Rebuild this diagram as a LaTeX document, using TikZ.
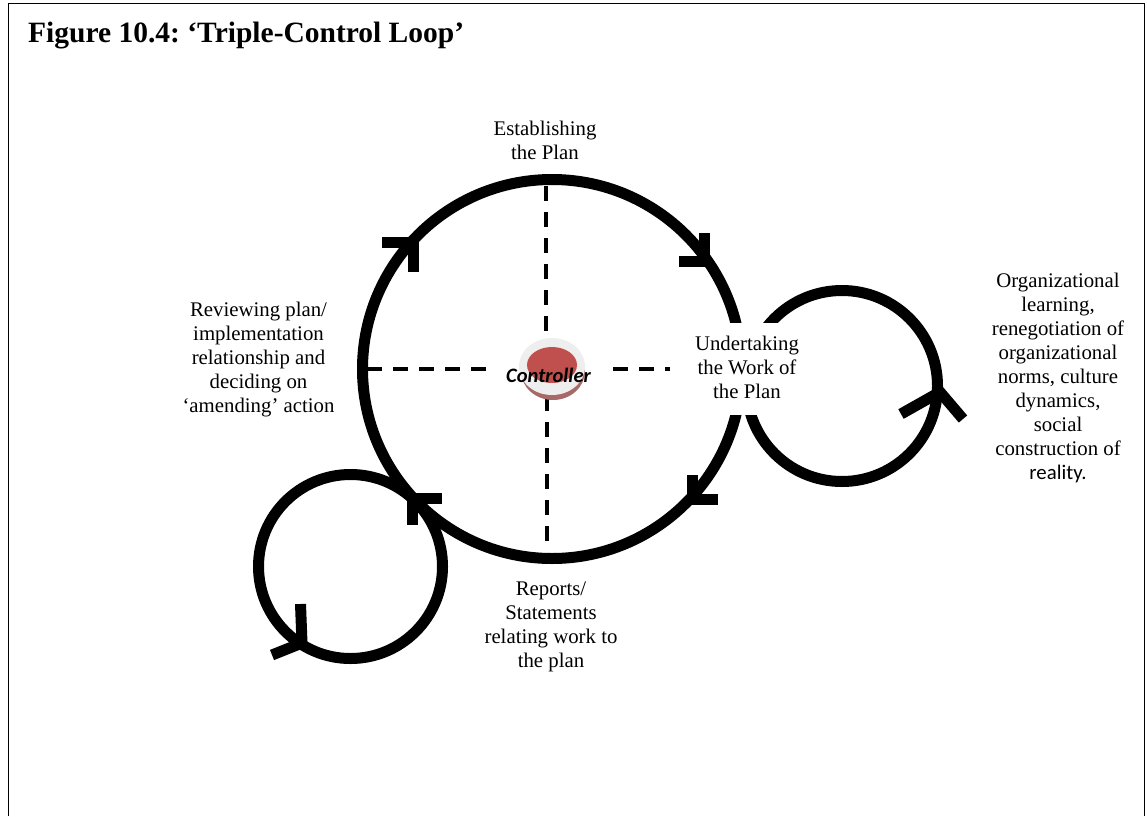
\documentclass[tikz,border=0pt]{standalone}
\usepackage{fontspec}
\setmainfont{Liberation Serif}
\newfontfamily\calfont{Carlito}
\definecolor{ctrlred}{HTML}{C0504D}
\definecolor{ctrlshade}{HTML}{A86A68}
\definecolor{ctrlring}{HTML}{EEEEEE}
\frenchspacing
\begin{document}
\begin{tikzpicture}[x=1pt,y=-1pt,
  loop/.style={line width=11pt},
  head/.style={line width=11pt, line join=miter, line cap=butt},
  axisline/.style={line width=3.5pt, dash pattern=on 15pt off 11pt},
  lbl/.style={align=center, inner sep=0pt, anchor=north, font=\fontsize{20.8}{24}\selectfont},
]
\useasboundingbox (0,0) rectangle (1147,816);
\draw[line width=1.5pt] (8.5,816) -- (8.5,3.5) -- (1144.5,3.5) -- (1144.5,816);
\node[anchor=base west, inner sep=0pt, font=\fontsize{29.5}{34}\selectfont\bfseries] (title) at (28,42) {Figure 10.4: ‘Triple-Control Loop’};

% loops
\coordinate (bigc) at (552,369);
\coordinate (rc) at (842,386);
\coordinate (lc) at (350.5,566.5);
\draw[loop] (bigc) circle[radius=189.5pt];
\draw[loop] (rc) circle[radius=95.5pt];
\draw[loop] (lc) circle[radius=92pt];

% arrowheads
\draw[head] (382,242.5) -- (413,242.5) -- (413,272);
\draw[head] (679,261) -- (704.5,261) -- (704.5,233);
\draw[head] (692.5,475) -- (692.5,499) -- (718,499);
\draw[head] (442,498.5) -- (412.5,498.5) -- (412.5,525);
\draw[head] (901,414) -- (940,392) -- (963,419);
\draw[head] (300.5,604) -- (302,643) -- (272,655);

% dashed axes
\coordinate (vt) at (546,186);
\coordinate (vtc) at (546,338);
\coordinate (vbc) at (547,396);
\coordinate (vb) at (547,552);
\coordinate (hl) at (367,369);
\coordinate (hlc) at (489,369);
\coordinate (hrc) at (613,369);
\coordinate (hr) at (670,369);
\draw[axisline] (vt) -- (vtc);
\draw[axisline] (vbc) -- (vb);
\draw[axisline] (hl) -- (hlc);
\draw[axisline] (hrc) -- (hr);

% controller
\fill[ctrlshade] (553,371) ellipse[x radius=32pt, y radius=29pt];
\fill[ctrlring] (552,366.5) ellipse[x radius=33pt, y radius=28.5pt];
\fill[ctrlred] (552,365) ellipse[x radius=25pt, y radius=18pt];
\node[anchor=base, inner sep=0pt, font=\calfont\fontsize{20.5}{24}\selectfont\bfseries\itshape] (ctrl) at (548.5,382) {Controller};

% labels
\fill[white] (688,323) rectangle (806,415);
\node[lbl] (plan) at (545,121.2) {Establishing\\the Plan};
\node[lbl] (review) at (258.5,302.2) {Reviewing plan/\\implementation\\relationship and\\deciding on\\‘amending’ action};
\node[lbl] (work) at (747,336.2) {Undertaking\\the Work of\\the Plan};
\node[lbl] (org) at (1058,273.2) {Organizational\\learning,\\renegotiation of\\organizational\\norms, culture\\dynamics,\\social\\construction of\\{\calfont reality.}};
\node[lbl] (reports) at (551,581.2) {Reports/\\Statements\\relating work to\\the plan};
\end{tikzpicture}
\end{document}
